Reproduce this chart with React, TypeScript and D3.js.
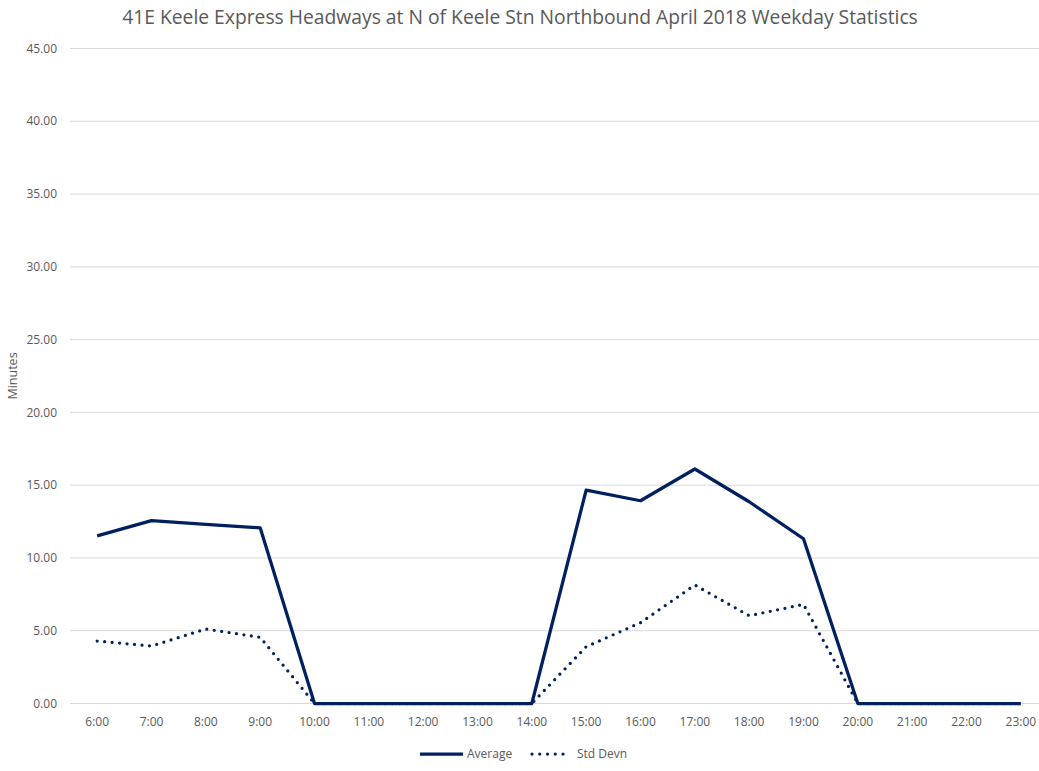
import React from "react";
import * as d3 from "d3";

const categories = ["6:00","7:00","8:00","9:00","10:00","11:00","12:00","13:00","14:00","15:00","16:00","17:00","18:00","19:00","20:00","21:00","22:00","23:00"];
const averageValues = [11.52,12.56,12.31,12.07,0,0,0,0,0,14.66,13.93,16.11,13.86,11.32,0,0,0,0];
const stdDevnValues = [4.29,3.95,5.12,4.55,0,0,0,0,0,3.9,5.55,8.14,6.03,6.81,0,0,0,0];
const yTicks = [0,5,10,15,20,25,30,35,40,45];

const W = 1039, H = 771;
const plotLeft = 70, plotRight = 1048, plotTop = 48.5, plotBottom = 703.5;
const COLOR = "#002060";
const TEXT = "#595959";
const FONT = "'Open Sans', sans-serif";

export default function App() {
  const x = d3.scaleBand<string>().domain(categories).range([plotLeft, plotRight]);
  const cx = (c: string) => (x(c) as number) + x.bandwidth() / 2;
  const y = d3.scaleLinear().domain([0, 45]).range([plotBottom, plotTop]);
  const line = d3.line<number>().x((_, i) => cx(categories[i])).y((d) => y(d));

  return (
    <svg width={W} height={H} style={{ position: "absolute", left: 0, top: 0, background: "#fff" }}>
      <rect width={W} height={H} fill="#fff" />
      <text x={520} y={24} textAnchor="middle" fontFamily={FONT} fontSize={19.3} fill={TEXT}>
        41E Keele Express Headways at N of Keele Stn Northbound April 2018 Weekday Statistics
      </text>
      {yTicks.map((t) => (
        <g key={t}>
          <line x1={plotLeft} x2={plotRight} y1={y(t)} y2={y(t)} stroke="#d9d9d9" strokeWidth={1} />
          <text x={57} y={y(t)} dy="0.35em" textAnchor="end" fontFamily={FONT} fontSize={12} fill={TEXT}>
            {t.toFixed(2)}
          </text>
        </g>
      ))}
      {categories.map((c) => (
        <text key={c} x={cx(c)} y={722} dy="0.35em" textAnchor="middle" fontFamily={FONT} fontSize={12} fill={TEXT}>
          {c}
        </text>
      ))}
      <text transform={`translate(13,376) rotate(-90)`} textAnchor="middle" dy="0.35em" fontFamily={FONT} fontSize={12.5} fill={TEXT}>
        Minutes
      </text>
      <path d={line(stdDevnValues) || ""} fill="none" stroke={COLOR} strokeWidth={3.25} strokeDasharray="0 7.5" strokeLinecap="round" strokeLinejoin="round" />
      <path d={line(averageValues) || ""} fill="none" stroke={COLOR} strokeWidth={3.25} strokeLinejoin="round" />
      <g>
        <line x1={420} x2={463} y1={754} y2={754} stroke={COLOR} strokeWidth={3.25} />
        <text x={467} y={754} dy="0.35em" fontFamily={FONT} fontSize={12} fill={TEXT}>Average</text>
        <line x1={532} x2={565} y1={754} y2={754} stroke={COLOR} strokeWidth={3.25} strokeDasharray="0 7.75" strokeLinecap="round" />
        <text x={577} y={754} dy="0.35em" fontFamily={FONT} fontSize={12} fill={TEXT}>Std Devn</text>
      </g>
    </svg>
  );
}
